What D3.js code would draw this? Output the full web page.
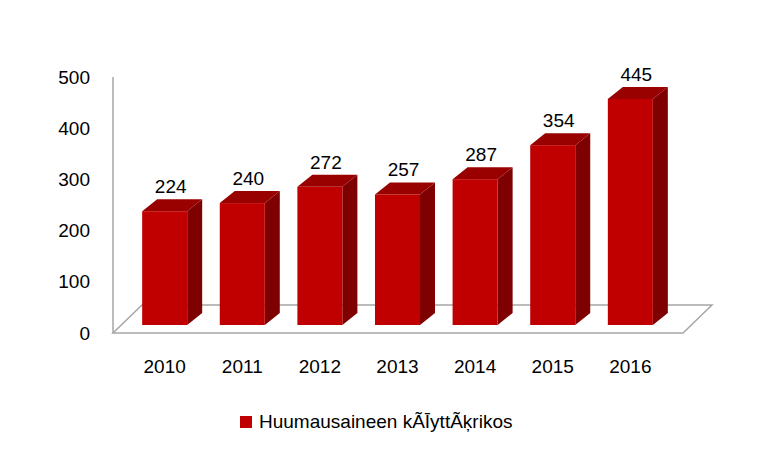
<!DOCTYPE html><html><head><script src="https://d3js.org/d3.v7.min.js"></script>
<style>body{margin:0;background:#fff}</style></head><body><svg width="780" height="473"></svg>
<script>
const years=["2010","2011","2012","2013","2014","2015","2016"];
const values=[224,240,272,257,287,354,445];
const yTicks=[0,100,200,300,400,500];
const seriesName="Huumausaineen käyttörikos";
const svg=d3.select("svg");
const font="'Liberation Sans',Arial,sans-serif";
const x=d3.scaleBand().domain(years).range([115,680]).paddingInner(0.42).paddingOuter(0.35);
const yAx=d3.scaleLinear().domain([0,500]).range([333,77]);
const yBar=d3.scaleLinear().domain([0,500]).range([325,71]);
const dx=15,dy=12;
const g="#a6a6a6";
// floor
svg.append("path").attr("d","M113,333L683,333L712,305L142,305Z").attr("fill","none").attr("stroke",g).attr("stroke-width",1.5);
svg.append("line").attr("x1",113).attr("x2",113).attr("y1",77).attr("y2",333).attr("stroke",g).attr("stroke-width",1.5);
// y labels
svg.selectAll(".yt").data(yTicks).join("text").attr("x",90).attr("y",d=>yAx(d)).attr("dy","0.35em").attr("text-anchor","end")
 .attr("font-family",font).attr("font-size",19).attr("fill","#000").text(d=>d);
const bw=x.bandwidth();
const bars=svg.selectAll(".b").data(values).join("g");
bars.append("path").attr("fill","#7f0000").attr("d",(d,i)=>{const x0=x(years[i])+bw,t=yBar(d),b=yBar(0);return `M${x0},${t}L${x0+dx},${t-dy}L${x0+dx},${b-dy}L${x0},${b}Z`;});
bars.append("path").attr("fill","#990000").attr("d",(d,i)=>{const x0=x(years[i]),t=yBar(d);return `M${x0},${t}L${x0+dx},${t-dy}L${x0+bw+dx},${t-dy}L${x0+bw},${t}Z`;});
bars.append("rect").attr("fill","#c00000").attr("x",(d,i)=>x(years[i])).attr("width",bw).attr("y",d=>yBar(d)).attr("height",d=>yBar(0)-yBar(d));
bars.append("text").attr("x",(d,i)=>x(years[i])+bw/2+6).attr("y",d=>yBar(d)-18).attr("text-anchor","middle")
 .attr("font-family",font).attr("font-size",19).text(d=>d);
svg.selectAll(".xt").data(years).join("text").attr("x",d=>x(d)+bw/2).attr("y",373).attr("text-anchor","middle")
 .attr("font-family",font).attr("font-size",19).text(d=>d);
svg.append("rect").attr("x",240).attr("y",416).attr("width",12).attr("height",12).attr("fill","#c00000");
svg.append("text").attr("x",259).attr("y",428).attr("font-family",font).attr("font-size",19).text(seriesName);
</script></body></html>
